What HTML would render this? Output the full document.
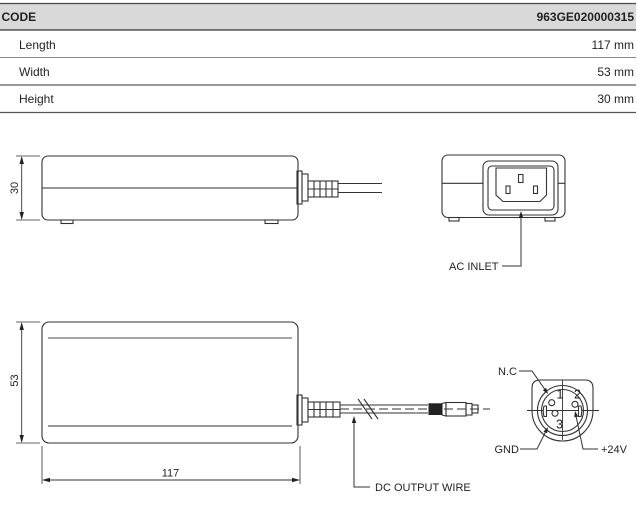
<!DOCTYPE html>
<html><head><meta charset="utf-8"><style>
html,body{margin:0;padding:0;background:#fff;}
svg{display:block;}
text{font-family:"Liberation Sans",Arial,sans-serif;fill:#231f20;}
</style></head><body>
<svg width="637" height="520" viewBox="0 0 637 520" xmlns="http://www.w3.org/2000/svg">
<!-- TABLE -->
<rect x="0" y="3" width="636" height="27" fill="#d9d9d9"/>
<line x1="0" y1="3.5" x2="636" y2="3.5" stroke="#4a4a4a" stroke-width="1.3"/>
<line x1="0" y1="30" x2="636" y2="30" stroke="#333" stroke-width="1.3"/>
<line x1="0" y1="57.5" x2="636" y2="57.5" stroke="#8a8a8a" stroke-width="1"/>
<line x1="0" y1="85" x2="636" y2="85" stroke="#999" stroke-width="2"/>
<line x1="0" y1="112.5" x2="636" y2="112.5" stroke="#555" stroke-width="1.3"/>
<text x="1.5" y="21" font-size="12" font-weight="bold">CODE</text>
<text x="634" y="21" font-size="12" font-weight="bold" text-anchor="end">963GE020000315</text>
<text x="19" y="49" font-size="12">Length</text>
<text x="634" y="49" font-size="12" text-anchor="end">117 mm</text>
<text x="19" y="76" font-size="12">Width</text>
<text x="634" y="76" font-size="12" text-anchor="end">53 mm</text>
<text x="19" y="103" font-size="12">Height</text>
<text x="634" y="103" font-size="12" text-anchor="end">30 mm</text>

<g stroke="#333" stroke-width="1.1" fill="none">
<!-- SIDE VIEW -->
<rect x="42" y="156" width="256" height="64" rx="6"/>
<line x1="42" y1="188" x2="298" y2="188"/>
<rect x="61" y="220" width="12" height="3.5"/>
<rect x="265" y="220" width="13" height="3.5"/>
<!-- dim 30 -->
<line x1="16" y1="156" x2="40" y2="156" stroke-width="0.8"/>
<line x1="16" y1="220" x2="40" y2="220" stroke-width="0.8"/>
<line x1="21.7" y1="158" x2="21.7" y2="218" stroke-width="0.9"/>
<!-- side connector -->
<rect x="297" y="171" width="5" height="33"/>
<rect x="302" y="174" width="6" height="27"/>
<rect x="308" y="181" width="30" height="16"/>
<line x1="314" y1="181" x2="314" y2="197"/>
<line x1="320" y1="181" x2="320" y2="197"/>
<line x1="326" y1="181" x2="326" y2="197"/>
<line x1="332" y1="181" x2="332" y2="197"/>
<line x1="308" y1="189" x2="338" y2="189"/>
<line x1="338" y1="183.5" x2="382" y2="183.5"/>
<line x1="338" y1="192.5" x2="382" y2="192.5"/>

<!-- FRONT VIEW -->
<rect x="442" y="155" width="123" height="62.5" rx="6"/>
<line x1="442" y1="183.3" x2="483" y2="183.3"/>
<line x1="558" y1="183.3" x2="565" y2="183.3"/>
<rect x="483" y="161" width="75" height="54" rx="6"/>
<rect x="488" y="166" width="66" height="44" rx="4"/>
<polygon points="496,168 546.5,168 546.5,195 540,201.5 503,201.5 496,195"/>
<rect x="518.5" y="174.5" width="4.5" height="8"/>
<rect x="506" y="186" width="4" height="7.5"/>
<rect x="533.5" y="186" width="4" height="7.5"/>
<rect x="449" y="217.5" width="10" height="3.5"/>
<rect x="545" y="217.5" width="10" height="3.5"/>
<polyline points="521,216 521,266 502,266" stroke-width="1"/>

<!-- TOP VIEW -->
<rect x="42" y="322" width="256" height="121" rx="7"/>
<line x1="48" y1="338" x2="292" y2="338" stroke="#888" stroke-width="1.6"/>
<line x1="48" y1="426" x2="292" y2="426"/>
<!-- dim 53 -->
<line x1="16" y1="322" x2="40" y2="322" stroke-width="0.8"/>
<line x1="16" y1="443" x2="40" y2="443" stroke-width="0.8"/>
<line x1="21.7" y1="324" x2="21.7" y2="441" stroke-width="0.9"/>
<!-- dim 117 -->
<line x1="42" y1="446" x2="42" y2="484" stroke-width="0.8"/>
<line x1="300" y1="446" x2="300" y2="484" stroke-width="0.8"/>
<line x1="44" y1="480" x2="298" y2="480" stroke-width="0.9"/>
<!-- bottom connector -->
<rect x="297" y="395" width="5" height="30"/>
<rect x="302" y="398" width="6" height="24"/>
<rect x="308" y="402" width="32" height="15"/>
<line x1="314" y1="402" x2="314" y2="417"/>
<line x1="320" y1="402" x2="320" y2="417"/>
<line x1="326" y1="402" x2="326" y2="417"/>
<line x1="333" y1="402" x2="333" y2="417"/>
<line x1="308" y1="409.5" x2="340" y2="409.5"/>
<line x1="340" y1="405" x2="428" y2="405"/>
<line x1="340" y1="413" x2="428" y2="413"/>
<line x1="340" y1="409" x2="490" y2="409" stroke-dasharray="9,4" stroke-width="0.9"/>
<line x1="358" y1="399" x2="372" y2="419"/>
<line x1="364" y1="399" x2="378" y2="419"/>
<polygon points="442,403.5 446,402.5 446,416 442,415"/>
<rect x="446" y="402.5" width="20" height="13.5"/>
<rect x="466" y="403.5" width="6" height="11.5"/>
<rect x="472" y="405" width="6" height="8"/>
<polyline points="354,421 354,487 370,487" stroke-width="1"/>

<!-- CIRCULAR CONNECTOR -->
<path d="M532,410.5 V388 Q532,380 540,380 H585 Q593,380 593,388 V410.5 A30.5,30.5 0 0 1 532,410.5 Z"/>
<circle cx="562.5" cy="410.5" r="25"/>
<circle cx="562.5" cy="410.5" r="21"/>
<line x1="527" y1="410.5" x2="599" y2="410.5" stroke-width="0.9"/>
<line x1="562.5" y1="380" x2="562.5" y2="440" stroke-width="0.9"/>
<circle cx="551.7" cy="402.7" r="3" fill="#fff"/>
<circle cx="575" cy="404.3" r="3" fill="#fff"/>
<circle cx="555" cy="413.3" r="3" fill="#fff"/>
<path d="M546.5,406 H544 Q542.5,411 544,416.5 H546.5 Z" fill="#fff"/>
<path d="M578.5,406 H581 Q582.5,411 581,416.5 H578.5 Z" fill="#fff"/>
<polyline points="519,371 532,371 546,391" stroke-width="1"/>
<polyline points="520,449 537,449 546.5,430" stroke-width="1"/>
<polyline points="598,449 583,449 576,416" stroke-width="1"/>
</g>

<!-- black grip -->
<rect x="428.5" y="403.3" width="13.5" height="11.7" fill="#222"/>

<!-- arrowheads -->
<g fill="#222">
<polygon points="21.7,156 19.5,164 23.9,164"/>
<polygon points="21.7,220 19.5,212 23.9,212"/>
<polygon points="21.7,322 19.5,330 23.9,330"/>
<polygon points="21.7,443 19.5,435 23.9,435"/>
<polygon points="42,480 50,477.8 50,482.2"/>
<polygon points="300,480 292,477.8 292,482.2"/>
<polygon points="521,211 518.8,218 523.2,218"/>
<polygon points="354,416 351.8,423 356.2,423"/>
<polygon points="548,394 542.9,390.2 546.2,387.9"/>
<polygon points="548,427 547.1,433.3 543.5,431.5"/>
<polygon points="575,411 578.2,416.5 574.3,417.3"/>
</g>

<!-- labels -->
<text x="0" y="0" font-size="11" text-anchor="middle" transform="translate(17.8,188) rotate(-90)">30</text>
<text x="0" y="0" font-size="11" text-anchor="middle" transform="translate(17.8,380.5) rotate(-90)">53</text>
<text x="170.5" y="476.5" font-size="11" text-anchor="middle">117</text>
<text x="449" y="270" font-size="11">AC INLET</text>
<text x="375" y="491" font-size="11">DC OUTPUT WIRE</text>
<text x="498" y="375" font-size="11">N.C</text>
<text x="494.5" y="453" font-size="11">GND</text>
<text x="601" y="453" font-size="11">+24V</text>
<text x="556.5" y="398.5" font-size="12.5">1</text>
<text x="574" y="398.5" font-size="12.5">2</text>
<text x="556" y="428.5" font-size="12.5">3</text>
</svg>
</body></html>
